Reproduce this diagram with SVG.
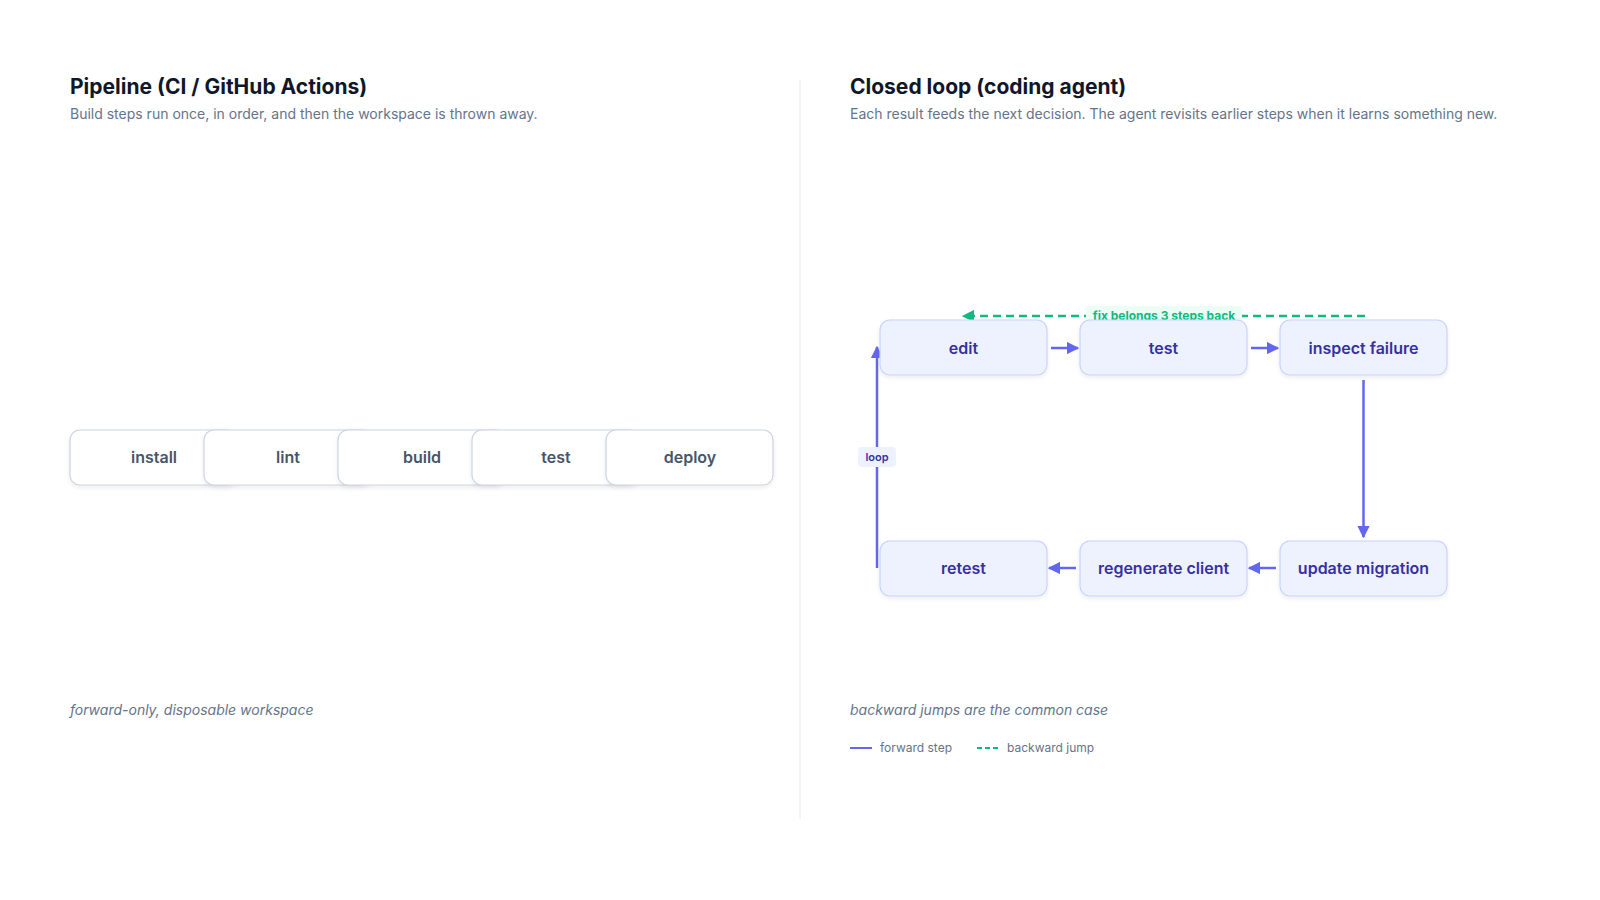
<svg xmlns="http://www.w3.org/2000/svg" width="1600" height="900" viewBox="0 0 1600 900">
<style>
text{font-family:Inter,"Noto Sans","Liberation Sans",sans-serif}
.title{font-size:21px;font-weight:700;fill:#0f172a}
.sub{font-size:14px;fill:#64748b}
.foot{font-size:14px;font-style:italic;fill:#64748b}
.pbox{fill:#fff;stroke:#cbd5e1;stroke-width:1.2}
.ptxt{font-size:16px;font-weight:600;fill:#475569;text-anchor:middle}
.nbox{fill:#eef2ff;stroke:#c7d2fe;stroke-width:1.2}
.ntxt{font-size:16px;font-weight:600;fill:#3730a3;text-anchor:middle}
.fwd{stroke:#6366f1;stroke-width:2.5;fill:none}
.back{stroke:#10b981;stroke-width:2.5;fill:none;stroke-dasharray:8 5}
.leg{font-size:12px;fill:#64748b}
</style>
<defs>
<marker id="af" viewBox="0 0 10 10" refX="9" refY="5" markerWidth="5" markerHeight="5" orient="auto" markerUnits="strokeWidth"><path d="M0,0L10,5L0,10z" fill="#6366f1"/></marker>
<marker id="ab" viewBox="0 0 10 10" refX="9" refY="5" markerWidth="5" markerHeight="5" orient="auto" markerUnits="strokeWidth"><path d="M0,0L10,5L0,10z" fill="#10b981"/></marker>
<filter id="sh" x="-10%" y="-10%" width="120%" height="140%"><feDropShadow dx="0" dy="2" stdDeviation="2" flood-color="#0f172a" flood-opacity="0.08"/></filter>
</defs>
<rect width="1600" height="900" fill="#fff"/>
<line x1="800" y1="80" x2="800" y2="819" stroke="#e2e8f0" stroke-width="1"/>
<text class="title" x="70" y="94">Pipeline (CI / GitHub Actions)</text>
<text class="sub" x="70" y="119">Build steps run once, in order, and then the workspace is thrown away.</text>
<text class="title" x="850" y="94">Closed loop (coding agent)</text>
<text class="sub" x="850" y="119">Each result feeds the next decision. The agent revisits earlier steps when it learns something new.</text>
<g id="p-install"><rect class="pbox" filter="url(#sh)" x="70" y="430" width="167" height="55" rx="10"/><text class="ptxt" x="154" y="463">install</text></g>
<g id="p-lint"><rect class="pbox" filter="url(#sh)" x="204" y="430" width="167" height="55" rx="10"/><text class="ptxt" x="288" y="463">lint</text></g>
<g id="p-build"><rect class="pbox" filter="url(#sh)" x="338" y="430" width="167" height="55" rx="10"/><text class="ptxt" x="422" y="463">build</text></g>
<g id="p-test"><rect class="pbox" filter="url(#sh)" x="472" y="430" width="167" height="55" rx="10"/><text class="ptxt" x="556" y="463">test</text></g>
<g id="p-deploy"><rect class="pbox" filter="url(#sh)" x="606" y="430" width="167" height="55" rx="10"/><text class="ptxt" x="690" y="463">deploy</text></g>
<text class="foot" x="70" y="715">forward-only, disposable workspace</text>
<g id="connectors">
<line class="fwd" x1="1051" y1="348" x2="1078" y2="348" marker-end="url(#af)"/>
<line class="fwd" x1="1251" y1="348" x2="1278" y2="348" marker-end="url(#af)"/>
<line class="fwd" x1="1363.5" y1="380" x2="1363.5" y2="537" marker-end="url(#af)"/>
<line class="fwd" x1="1276" y1="568" x2="1249" y2="568" marker-end="url(#af)"/>
<line class="fwd" x1="1076" y1="568" x2="1049" y2="568" marker-end="url(#af)"/>
<line class="fwd" x1="877" y1="568" x2="877" y2="347" marker-end="url(#af)"/>
<rect x="858" y="447" width="38" height="20" rx="4" fill="#eef2ff"/>
<text x="877" y="461" font-size="11" font-weight="600" fill="#3730a3" text-anchor="middle">loop</text>
<line class="back" x1="1365" y1="316" x2="963" y2="316" marker-end="url(#ab)"/>
<rect x="1086" y="306" width="156" height="18" rx="3" fill="#ecfdf5"/>
<text x="1164" y="320" font-size="12" font-weight="700" fill="#10b981" text-anchor="middle">fix belongs 3 steps back</text>
</g>
<g id="n-edit"><rect class="nbox" filter="url(#sh)" x="880" y="320" width="167" height="55" rx="10"/><text class="ntxt" x="963.5" y="354">edit</text></g>
<g id="n-test"><rect class="nbox" filter="url(#sh)" x="1080" y="320" width="167" height="55" rx="10"/><text class="ntxt" x="1163.5" y="354">test</text></g>
<g id="n-inspect"><rect class="nbox" filter="url(#sh)" x="1280" y="320" width="167" height="55" rx="10"/><text class="ntxt" x="1363.5" y="354">inspect failure</text></g>
<g id="n-retest"><rect class="nbox" filter="url(#sh)" x="880" y="541" width="167" height="55" rx="10"/><text class="ntxt" x="963.5" y="574">retest</text></g>
<g id="n-regen"><rect class="nbox" filter="url(#sh)" x="1080" y="541" width="167" height="55" rx="10"/><text class="ntxt" x="1163.5" y="574">regenerate client</text></g>
<g id="n-update"><rect class="nbox" filter="url(#sh)" x="1280" y="541" width="167" height="55" rx="10"/><text class="ntxt" x="1363.5" y="574">update migration</text></g>
<text class="foot" x="850" y="715">backward jumps are the common case</text>
<g id="legend">
<line x1="850" y1="748" x2="872" y2="748" stroke="#6366f1" stroke-width="2"/>
<text class="leg" x="880" y="752">forward step</text>
<line x1="977" y1="748" x2="999" y2="748" stroke="#10b981" stroke-width="2" stroke-dasharray="5 3"/>
<text class="leg" x="1007" y="752">backward jump</text>
</g>
</svg>
